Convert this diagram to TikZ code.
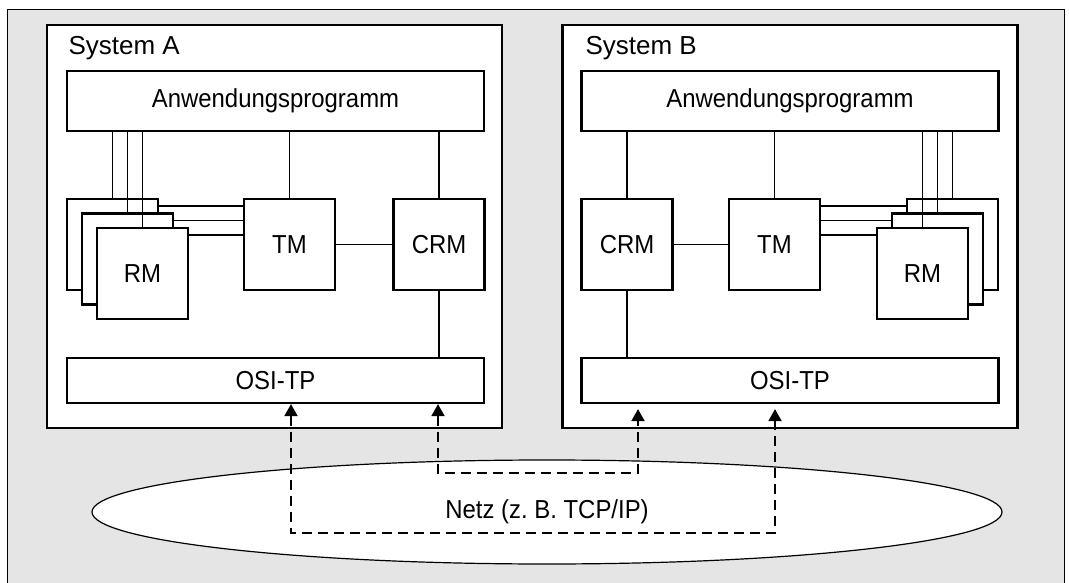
\documentclass[tikz,border=0pt]{standalone}
\usepackage{fontspec}
\setmainfont{Liberation Sans}
\newfontfamily\narrowfont[FakeStretch=0.92]{Liberation Sans}
\usetikzlibrary{arrows.meta,shapes.geometric}

\definecolor{backgray}{gray}{0.9}

\tikzset{
  sysbox/.style={draw, line width=2.2pt, fill=white, minimum width=455pt, minimum height=403pt},
  compbox/.style={draw, line width=2.2pt, fill=white, inner sep=0pt, minimum width=91pt, minimum height=91pt},
  layerbox/.style={draw, line width=2.2pt, fill=white, inner sep=0pt, minimum width=417pt},
  syslabel/.style={anchor=base west, font=\fontsize{26}{30}\selectfont},
  link/.style={line width=1.8pt},
  netlink/.style={line width=1.8pt, dash pattern=on 10pt off 6pt,
    {Triangle[length=12pt,width=13pt]}-{Triangle[length=12pt,width=13pt]}},
}

\begin{document}
\begin{tikzpicture}[x=1pt, y=-1pt, font=\narrowfont\fontsize{26}{30}\selectfont]
\useasboundingbox (0,0) rectangle (1069,583);
% grey frame, open at the bottom
\fill[backgray] (7,9) rectangle (1064,583);
\draw[line width=0.9pt] (7,583) -- (7,9) -- (1064,9) -- (1064,583);

% the two systems
\node[sysbox] (sysA) at (274.5,226.5) {};
\node[sysbox] (sysB) at (790,226.5) {};
\node[syslabel] (labA) at (65,55) {System A};
\node[syslabel] (labB) at (582,55) {System B};

% application programs and OSI-TP layers
\node[layerbox, minimum height=60pt] (anwA) at (275.5,101) {Anwendungsprogramm};
\node[layerbox, minimum height=60pt] (anwB) at (790,101) {Anwendungsprogramm};
\node[layerbox, minimum height=45pt] (osiA) at (275.5,380.5) {OSI-TP};
\node[layerbox, minimum height=45pt] (osiB) at (790,380.5) {OSI-TP};

% system A: TM, CRM and a stack of RMs
\node[compbox] (tmA) at (289.5,244.5) {TM};
\node[compbox] (crmA) at (439,244.5) {CRM};
\foreach \i/\t in {1/{},2/{},3/RM}
  \node[compbox] (rmA\i) at ({97.5+15*\i},{230+14.5*\i}) {\t};
\foreach \i in {1,2,3} {
  \draw[link] (rmA\i.north) -- (rmA\i.north |- anwA.south);
  \draw[link] ([yshift=-8pt]rmA\i.north east) -- ([yshift=-8pt]rmA\i.north east -| tmA.west);
}
\draw[link] (tmA.north) -- (tmA.north |- anwA.south);
\draw[link] (crmA.north) -- (crmA.north |- anwA.south);
\draw[link] (tmA.east) -- (crmA.west);
\draw[link] (crmA.south) -- (crmA.south |- osiA.north);

% system B: mirrored
\node[compbox] (crmB) at (627,244.5) {CRM};
\node[compbox] (tmB) at (774.5,244.5) {TM};
\foreach \i/\t in {1/{},2/{},3/RM}
  \node[compbox] (rmB\i) at ({967.5-15*\i},{230+14.5*\i}) {\t};
\foreach \i in {1,2,3} {
  \draw[link] (rmB\i.north) -- (rmB\i.north |- anwB.south);
  \draw[link] ([yshift=-8pt]rmB\i.north west) -- ([yshift=-8pt]rmB\i.north west -| tmB.east);
}
\draw[link] (tmB.north) -- (tmB.north |- anwB.south);
\draw[link] (crmB.north) -- (crmB.north |- anwB.south);
\draw[link] (crmB.east) -- (tmB.west);
\draw[link] (crmB.south) -- (crmB.south |- osiB.north);

% network
\node[ellipse, draw, line width=1.2pt, fill=white, minimum width=910pt, minimum height=104pt]
  (net) at (547,512) {Netz (z.\ B. TCP/IP)};

% dashed links through the network
\coordinate (outA) at (291,533);
\coordinate (outB) at (775,533);
\coordinate (inA) at (438,473);
\coordinate (inB) at (638,473);
\draw[netlink] (osiA.south -| outA) -- (outA) -- (outB) -- ([yshift=-5pt]osiB.south -| outB);
\draw[netlink] (osiA.south -| inA) -- (inA) -- (inB) -- ([yshift=-5pt]osiB.south -| inB);
\end{tikzpicture}
\end{document}
